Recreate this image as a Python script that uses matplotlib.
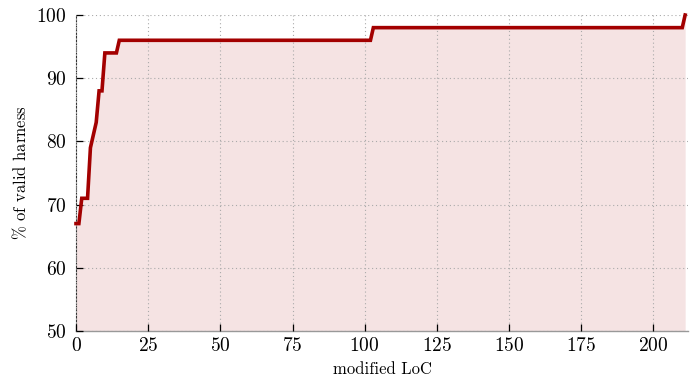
import matplotlib.pyplot as plt
import numpy as np

# modified lines of code vs. share of valid harnesses
loc = [0, 1, 2, 4, 5, 6, 7, 8, 9, 10, 14, 15, 102, 103, 210, 211]
valid_pct = [67, 67, 71, 71, 79, 81, 83, 88, 88, 94, 94, 96, 96, 98, 98, 100]

x_ticks = [0, 25, 50, 75, 100, 125, 150, 175, 200]
y_ticks = [50, 60, 70, 80, 90, 100]

plt.rcParams['font.family'] = 'serif'
plt.rcParams['font.serif'] = ['cmr10', 'DejaVu Serif']
plt.rcParams['axes.formatter.use_mathtext'] = True
plt.rcParams['mathtext.fontset'] = 'cm'

fig = plt.figure(figsize=(6.94, 3.81), dpi=100)
ax = fig.add_axes([0.1095, 0.1312, 0.8819, 0.8294])

red = '#a30000'
ax.fill_between(loc, valid_pct, 50, color='#f5e3e3', linewidth=0, zorder=1)
ax.plot(loc, valid_pct, color=red, linewidth=2.6, solid_joinstyle='miter', zorder=3, clip_on=False)

ax.set_xlim(0, 212)
ax.set_ylim(50, 100)
ax.set_xticks(x_ticks)
ax.set_yticks(y_ticks)

ax.grid(True, linestyle=(0, (1, 2.5)), color='#aaaaaa', linewidth=0.8, zorder=2)
ax.set_axisbelow(False)

for s in ['top', 'right']:
    ax.spines[s].set_visible(False)
ax.spines['left'].set_linestyle((0, (1.5, 1.5)))
ax.spines['left'].set_color('#333333')
ax.spines['left'].set_linewidth(0.8)
ax.spines['bottom'].set_color('#999999')
ax.spines['bottom'].set_linewidth(1.0)

ax.tick_params(direction='in', length=5, width=0.9, color='black', labelsize=14)
ax.tick_params(axis='x', pad=4)
ax.tick_params(axis='y', pad=7)

ax.set_xlabel('modified LoC', fontsize=12, labelpad=5)
ax.set_ylabel(r'$\%$ of valid harness', fontsize=12, labelpad=5)

fig.savefig('out.png', dpi=100)
